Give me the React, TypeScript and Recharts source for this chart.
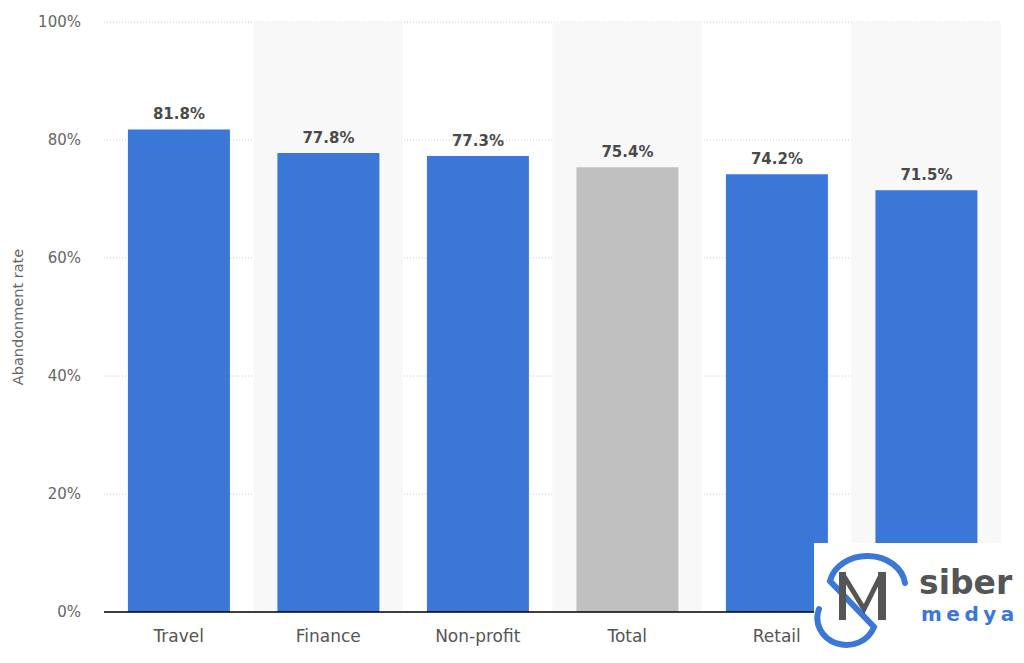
import React from "react";
import {
  BarChart,
  Bar,
  Cell,
  XAxis,
  YAxis,
  CartesianGrid,
  ReferenceArea,
  LabelList,
  Label
} from "recharts";

const categories = ["Travel", "Finance", "Non-profit", "Total", "Retail", "Fashion"];
const rates = [81.8, 77.8, 77.3, 75.4, 74.2, 71.5];
const yTicks = [0, 20, 40, 60, 80, 100];
const shadedCategories = ["Finance", "Total", "Fashion"];

const data = categories.map((name, i) => ({ name, rate: rates[i] }));

const BLUE = "#3a77d7";
const GREY_BAR = "#c0c0c0";
const FONT = "'DejaVu Sans', sans-serif";

// watermark box that sits over the bottom-right corner
const Logo: React.FC = () => (
  <div
    style={{
      position: "absolute",
      left: 814,
      top: 543,
      width: 210,
      height: 120,
      background: "#fff",
      overflow: "hidden"
    }}
  >
    <svg width={210} height={120}>
      <path
        d="M 91 40 A 38 31 0 0 0 16 38 L 60 84 A 27 25 0 0 1 5 66"
        fill="none"
        stroke={BLUE}
        strokeWidth={6}
        strokeLinecap="round"
      />
      <rect x={25} y={29} width={7} height={48} fill="#555" />
      <rect x={64} y={29} width={8} height={48} fill="#555" />
      <path d="M 28 30 L 50 66 L 68 30" fill="none" stroke="#555" strokeWidth={5} />
      <text x={105} y={51} fontFamily={FONT} fontWeight={700} fontSize={33} fill="#555">
        siber
      </text>
      <text
        x={107}
        y={78}
        fontFamily={FONT}
        fontWeight={700}
        fontSize={20}
        letterSpacing={4.5}
        fill={BLUE}
      >
        medya
      </text>
    </svg>
  </div>
);

export default function App() {
  return (
    <div style={{ position: "fixed", left: 0, top: 0, width: 1024, height: 663, background: "#fff" }}>
      <BarChart
        width={1024}
        height={663}
        data={data}
        margin={{ top: 22, right: 23, bottom: 21, left: 0 }}
        barCategoryGap="16%"
        style={{ fontFamily: FONT }}
      >
        {shadedCategories.map((c) => (
          <ReferenceArea key={c} x1={c} x2={c} fill="#f8f8f8" fillOpacity={1} stroke="none" />
        ))}
        <CartesianGrid vertical={false} stroke="#c8c8c8" strokeDasharray="1 2" />
        <XAxis
          dataKey="name"
          height={30}
          tickLine={false}
          axisLine={{ stroke: "#000", strokeWidth: 1.5 }}
          tick={{ fill: "#555", fontSize: 17 }}
          tickMargin={12}
        />
        <YAxis
          width={104}
          domain={[0, 100]}
          ticks={yTicks}
          tickFormatter={(v: number) => `${v}%`}
          axisLine={false}
          tickLine={false}
          tickSize={0}
          tickMargin={23}
          tick={{ fill: "#666", fontSize: 15 }}
        >
          <Label value="Abandonment rate" angle={-90} position="center" dx={-34} fill="#666" fontSize={14.5} />
        </YAxis>
        <Bar dataKey="rate" isAnimationActive={false}>
          {data.map((d) => (
            <Cell key={d.name} fill={d.name === "Total" ? GREY_BAR : BLUE} />
          ))}
          <LabelList
            dataKey="rate"
            position="top"
            offset={10}
            formatter={(v: number) => `${v}%`}
            fill="#4a4a4a"
            fontSize={15}
            fontWeight={700}
          />
        </Bar>
      </BarChart>
      <Logo />
    </div>
  );
}
